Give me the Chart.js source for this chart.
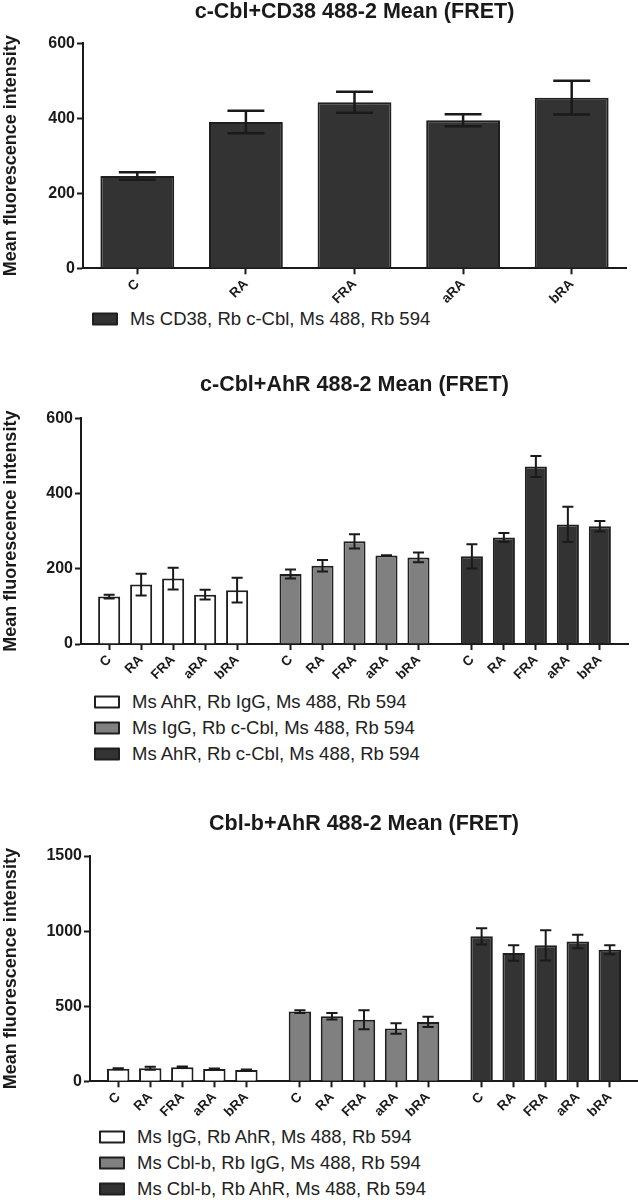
<!DOCTYPE html>
<html>
<head>
<meta charset="utf-8">
<script src="https://cdn.jsdelivr.net/npm/chart.js@4.4.1/dist/chart.umd.min.js"></script>
<style>
  body { margin: 0; background: #fff; }
  #page { position: relative; width: 638px; height: 1200px; overflow: hidden;
          font-family: "Liberation Sans", Arial, sans-serif; color: #1a1a1a; }
  canvas { position: absolute; left: 0; }
  .title { position: absolute; font-weight: bold; font-size: 21.5px; white-space: nowrap;
           transform: translate(-50%, -50%); }
  .box { position: absolute; width: 22px; height: 9px; border: 2px solid #1f1f1f;
         border-radius: 1px; transform: translateY(-50%); }
  .name { position: absolute; font-size: 18.5px; color: #222; white-space: nowrap;
          transform: translateY(-50%); }
</style>
</head>
<body>
<div id="page"></div>
<script>
// x categories, repeated for each group
const categories = ["C", "RA", "FRA", "aRA", "bRA"];

// c-Cbl + CD38
const cd38Names = ["Ms CD38, Rb c-Cbl, Ms 488, Rb 594"];
const cd38Mean = [246, 390, 443, 395, 455];
const cd38Err = [10, 30, 28, 16, 45];

// c-Cbl + AhR
const cblAhrNames = [
  "Ms AhR, Rb IgG, Ms 488, Rb 594",
  "Ms IgG, Rb c-Cbl, Ms 488, Rb 594",
  "Ms AhR, Rb c-Cbl, Ms 488, Rb 594"
];
const ahrIgGMean = [126, 158, 174, 131, 143];
const ahrIgGErr = [5, 29, 29, 13, 33];
const igGCblMean = [186, 208, 273, 235, 230];
const igGCblErr = [12, 15, 19, 1, 13];
const ahrCblMean = [233, 283, 472, 318, 313];
const ahrCblErr = [32, 12, 28, 47, 14];

// Cbl-b + AhR
const cblbAhrNames = [
  "Ms IgG, Rb AhR, Ms 488, Rb 594",
  "Ms Cbl-b, Rb IgG, Ms 488, Rb 594",
  "Ms Cbl-b, Rb AhR, Ms 488, Rb 594"
];
const igGAhrMean = [84, 87, 93, 82, 75];
const igGAhrErr = [3, 10, 5, 4, 4];
const cblbIgGMean = [464, 433, 410, 351, 395];
const cblbIgGErr = [9, 22, 63, 35, 34];
const cblbAhrMean = [965, 854, 905, 930, 876];
const cblbAhrErr = [54, 51, 101, 45, 30];

const yTitle = "Mean fluorescence intensity";
const ink = "#1a1a1a";

Chart.defaults.font.family = '"Liberation Sans", Arial, sans-serif';

const panels = [
  {
    title: "c-Cbl+CD38 488-2 Mean (FRET)", yMax: 600, yStep: 200,
    series: [cd38Mean], errors: [cd38Err], names: cd38Names, colors: ["#333333"],
    top: 20, height: 285, axisX: 83, plotTop: 43.3, plotBottom: 268.3, plotRight: 626,
    pad: 0.5, gap: 0, barPct: 0.68, errWidth: 2.5,
    titleY: 11, legendX: 92, legendY: [319]
  },
  {
    title: "c-Cbl+AhR 488-2 Mean (FRET)", yMax: 600, yStep: 200,
    series: [ahrIgGMean, igGCblMean, ahrCblMean], errors: [ahrIgGErr, igGCblErr, ahrCblErr],
    names: cblAhrNames, colors: ["#ffffff", "#808080", "#333333"],
    top: 395, height: 295, axisX: 81, plotTop: 418.3, plotBottom: 644, plotRight: 628,
    pad: 0.88, gap: 0.67, barPct: 0.69, errWidth: 2,
    titleY: 384, legendX: 94, legendY: [702, 728, 754]
  },
  {
    title: "Cbl-b+AhR 488-2 Mean (FRET)", yMax: 1500, yStep: 500,
    series: [igGAhrMean, cblbIgGMean, cblbAhrMean], errors: [igGAhrErr, cblbIgGErr, cblbAhrErr],
    names: cblbAhrNames, colors: ["#ffffff", "#808080", "#333333"],
    top: 835, height: 285, axisX: 90, plotTop: 856, plotBottom: 1081.3, plotRight: 638,
    pad: 0.88, gap: 0.67, barPct: 0.7, errWidth: 2,
    titleY: 823, legendX: 99, legendY: [1137, 1163, 1189]
  }
];

// mean +/- error whiskers
const errorBars = {
  id: "errorBars",
  afterDatasetsDraw(chart, args, opts) {
    const ctx = chart.ctx;
    const y = chart.scales.y;
    ctx.save();
    ctx.strokeStyle = ink;
    ctx.lineWidth = opts.lineWidth;
    chart.data.datasets.forEach((ds, d) => {
      chart.getDatasetMeta(d).data.forEach((bar, i) => {
        const v = ds.data[i].y;
        const e = opts.errors[d][i];
        const hi = y.getPixelForValue(v + e);
        const lo = y.getPixelForValue(v - e);
        const half = bar.width * 0.25;
        ctx.beginPath();
        ctx.moveTo(bar.x, hi); ctx.lineTo(bar.x, lo);
        ctx.moveTo(bar.x - half, hi); ctx.lineTo(bar.x + half, hi);
        ctx.moveTo(bar.x - half, lo); ctx.lineTo(bar.x + half, lo);
        ctx.stroke();
      });
    });
    ctx.restore();
  }
};

const page = document.getElementById("page");

panels.forEach((p) => {
  const canvas = document.createElement("canvas");
  canvas.width = 638;
  canvas.height = p.height;
  canvas.style.top = p.top + "px";
  page.appendChild(canvas);

  // bar positions on the x axis: groups separated by a small gap
  const stride = categories.length + p.gap;
  const positions = [];
  const tickLabels = [];
  p.series.forEach((s, g) => {
    categories.forEach((c, i) => {
      positions.push(g * stride + i);
      tickLabels.push(c);
    });
  });
  const xMin = -p.pad;
  const xMax = (p.series.length - 1) * stride + categories.length - 1 + p.pad;

  const datasets = p.series.map((s, g) => ({
    label: p.names[g],
    data: s.map((v, i) => ({ x: positions[g * categories.length + i], y: v })),
    backgroundColor: p.colors[g],
    borderColor: "#1f1f1f",
    borderWidth: 2,
    borderSkipped: "start",
    barPercentage: p.barPct,
    categoryPercentage: 1,
    grouped: false,
    stack: "all"
  }));

  new Chart(canvas, {
    type: "bar",
    data: { datasets },
    plugins: [errorBars],
    options: {
      responsive: false,
      animation: false,
      devicePixelRatio: 1,
      layout: { padding: { top: p.plotTop - p.top, right: 638 - p.plotRight, left: 0, bottom: 0 } },
      plugins: {
        legend: { display: false },
        tooltip: { enabled: false },
        errorBars: { errors: p.errors, lineWidth: p.errWidth }
      },
      scales: {
        x: {
          type: "linear",
          min: xMin,
          max: xMax,
          offset: false,
          stacked: true,
          afterBuildTicks: (s) => { s.ticks = positions.map((v) => ({ value: v })); },
          afterFit: (s) => { s.height = p.top + p.height - p.plotBottom; },
          ticks: {
            autoSkip: false,
            minRotation: 45,
            maxRotation: 45,
            padding: 2,
            color: ink,
            font: { size: 13.5, weight: "bold" },
            callback: (v, i) => tickLabels[i]
          },
          grid: { offset: false, drawOnChartArea: false, tickLength: 6, tickColor: ink, tickWidth: 2 },
          border: { color: ink, width: 2 }
        },
        y: {
          min: 0,
          max: p.yMax,
          afterFit: (s) => { s.width = p.axisX; },
          ticks: {
            stepSize: p.yStep, padding: 2, color: ink, font: { size: 16, weight: "bold" },
            callback: (v) => String(v)
          },
          grid: { drawOnChartArea: false, tickLength: 6, tickColor: ink, tickWidth: 2 },
          border: { color: ink, width: 2 },
          title: { display: true, text: yTitle, color: ink, padding: 0, font: { size: 18, weight: "bold" } }
        }
      }
    }
  });

  const t = document.createElement("div");
  t.className = "title";
  t.textContent = p.title;
  t.style.left = (p.axisX + p.plotRight) / 2 + "px";
  t.style.top = p.titleY + "px";
  page.appendChild(t);

  p.names.forEach((n, g) => {
    const b = document.createElement("div");
    b.className = "box";
    b.style.left = p.legendX + "px";
    b.style.top = p.legendY[g] + "px";
    b.style.background = p.colors[g];
    page.appendChild(b);
    const l = document.createElement("div");
    l.className = "name";
    l.textContent = n;
    l.style.left = p.legendX + 38 + "px";
    l.style.top = p.legendY[g] + "px";
    page.appendChild(l);
  });
});
</script>
</body>
</html>
